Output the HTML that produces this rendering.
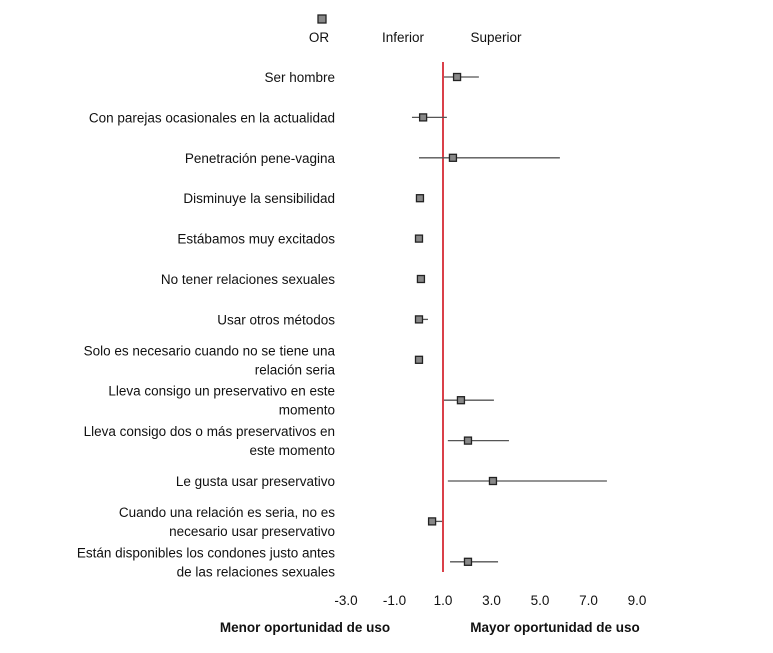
<!DOCTYPE html>
<html><head><meta charset="utf-8"><style>
body{margin:0;background:#fff;width:773px;height:648px;overflow:hidden}
svg text{font-family:"Liberation Sans",sans-serif;fill:#111}
</style></head><body>
<svg id="c" width="773" height="648" xmlns="http://www.w3.org/2000/svg">
<rect x="318" y="15" width="8" height="8" fill="#888" stroke="#222" stroke-width="1.3"/>
<text x="319" y="42" font-size="13.5" text-anchor="middle">OR</text>
<text x="403" y="42" font-size="13.5" text-anchor="middle">Inferior</text>
<text x="496" y="42" font-size="13.5" text-anchor="middle">Superior</text>
<text x="305" y="632" font-size="13.5" font-weight="bold" text-anchor="middle">Menor oportunidad de uso</text>
<text x="555" y="632" font-size="13.5" font-weight="bold" text-anchor="middle">Mayor oportunidad de uso</text>
<g id="marks"></g>
</svg>
<script>
const labels=[["Ser hombre"],["Con parejas ocasionales en la actualidad"],["Penetración pene-vagina"],["Disminuye la sensibilidad"],["Estábamos muy excitados"],["No tener relaciones sexuales"],["Usar otros métodos"],["Solo es necesario cuando no se tiene una","relación seria"],["Lleva consigo un preservativo en este","momento"],["Lleva consigo dos o más preservativos en","este momento"],["Le gusta usar preservativo"],["Cuando una relación es seria, no es","necesario usar preservativo"],["Están disponibles los condones justo antes","de las relaciones sexuales"]];
const orValues=[1.58,0.18,1.41,0.05,0.01,0.09,0.01,0.01,1.74,2.03,3.06,0.55,2.03];
const lower=[1.04,-0.28,0.01,0.0,0.0,0.05,0.0,0.0,1.04,1.2,1.2,0.38,1.29];
const upper=[2.48,1.16,5.82,0.1,0.05,0.15,0.38,0.05,3.1,3.72,7.76,0.96,3.27];
const ticks=[-3,-1,1,3,5,7,9];
const ref=1;
const NS="http://www.w3.org/2000/svg";
const g=document.getElementById('marks');
const x=v=>443+(v-1)*24.25;
const y=i=>77+i*40.4;
function mk(t,a){const e=document.createElementNS(NS,t);for(const k in a)e.setAttribute(k,a[k]);g.appendChild(e);return e;}
ticks.forEach(t=>{const e=mk('text',{x:x(t),y:605,'font-size':13.5,'text-anchor':'middle'});e.textContent=t.toFixed(1);

});
const rl=mk('line',{x1:x(ref),x2:x(ref),y1:62,y2:572,stroke:'#d0101c','stroke-width':1.6});


labels.forEach((L,i)=>{
 const yy=y(i);
 L.forEach((s,j)=>{const e=mk('text',{x:335,y:yy+5+(L.length>1?(j-0.5)*19:0),'font-size':13.5,'text-anchor':'end'});e.textContent=s;
 
 });
 const ln=mk('line',{x1:x(lower[i]),x2:x(upper[i]),y1:yy,y2:yy,stroke:'#555','stroke-width':1.3});
 
 
 const r=mk('rect',{x:x(orValues[i])-3.5,y:yy-3.5,width:7,height:7,fill:'#888',stroke:'#222','stroke-width':1.3});
 
 
});
</script>
</body></html>
